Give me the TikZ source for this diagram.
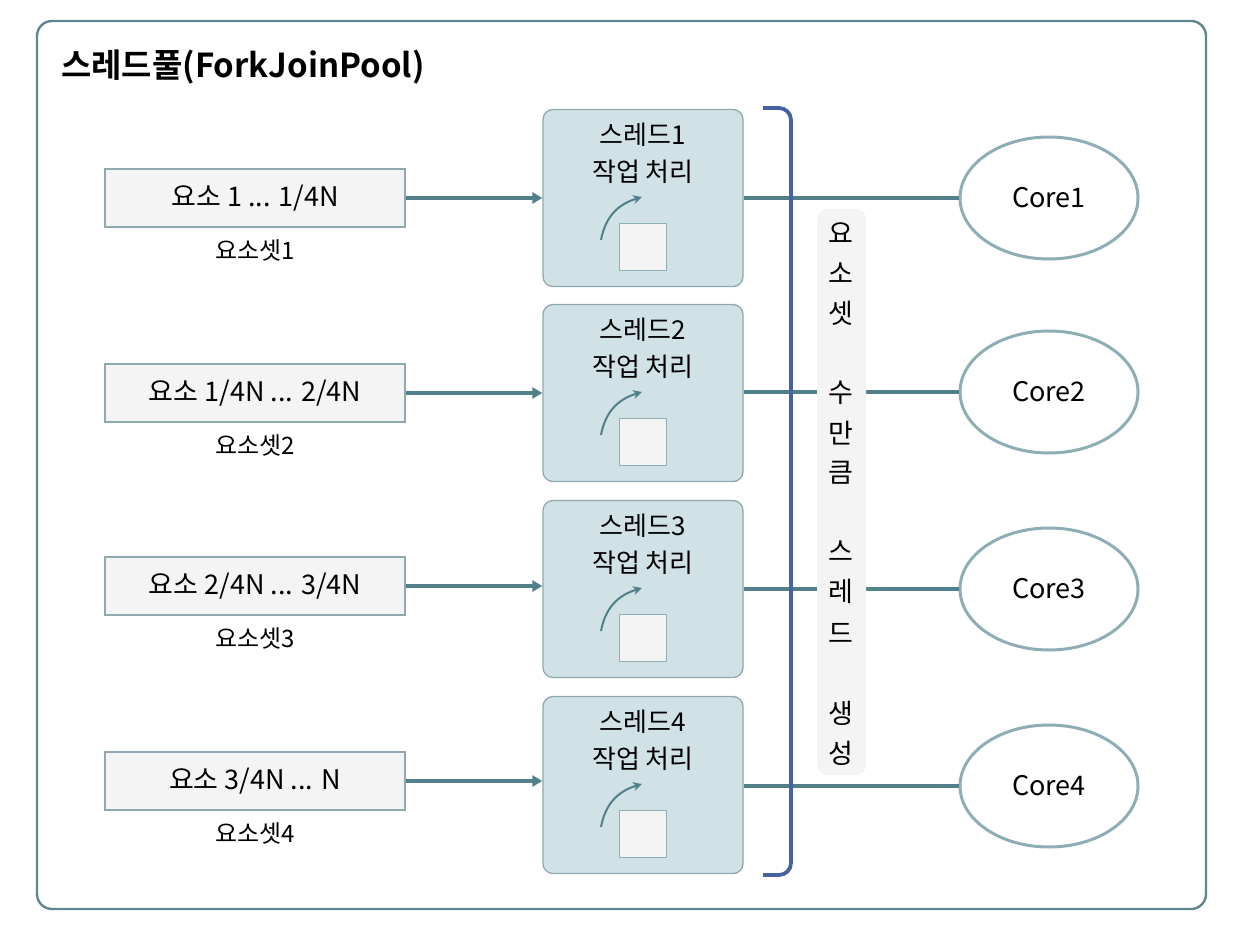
\documentclass[tikz,border=0pt]{standalone}
\usepackage{fontspec}
\setmainfont{Noto Sans CJK KR}
\newfontfamily\krbold{Noto Sans CJK KR Bold}
\usetikzlibrary{arrows.meta,shapes.geometric}
\definecolor{frame}{HTML}{5E8790}
\definecolor{conn}{HTML}{52808A}
\definecolor{boxfill}{HTML}{F4F4F4}
\definecolor{boxdraw}{HTML}{8EA9AF}
\definecolor{thrfill}{HTML}{D1E2E7}
\definecolor{coredraw}{HTML}{8EAEB5}
\definecolor{brk}{HTML}{4563A0}
\tikzset{
  elembox/.style={draw=boxdraw, fill=boxfill, line width=1.3pt, minimum width=300pt, minimum height=58pt, inner sep=0pt, font=\fontsize{27}{30}\selectfont},
  setlbl/.style={font=\fontsize{24}{27}\selectfont, inner sep=0pt},
  thrbox/.style={draw=boxdraw, fill=thrfill, line width=1.3pt, rounded corners=10pt, minimum width=200pt, minimum height=177pt, inner sep=0pt},
  thrtxt/.style={font=\fontsize{26}{30}\selectfont, inner sep=0pt},
  sq/.style={draw=coredraw, fill=boxfill, line width=1.3pt, minimum width=47pt, minimum height=47pt, inner sep=0pt},
  core/.style={ellipse, draw=coredraw, fill=white, line width=3pt, minimum width=178pt, minimum height=122pt, inner sep=0pt, font=\fontsize{27}{30}\selectfont},
  conline/.style={draw=conn, line width=3.2pt},
  conarrow/.style={conline, -{Triangle[length=10pt,width=11pt]}},
  curv/.style={draw=conn, line width=2pt, -{Stealth[length=9pt,width=9pt]}},
  vchar/.style={font=\fontsize{27}{30}\selectfont, inner sep=0pt}
}
\begin{document}
\begin{tikzpicture}[x=1pt,y=-1pt]
\useasboundingbox (0,0) rectangle (1242,928);
\fill[white] (0,0) rectangle (1242,928);
\draw[frame, line width=2.4pt, rounded corners=15pt] (37,21) rectangle (1206,909);
\node[anchor=west, inner sep=0pt, font=\krbold\fontsize{33}{36}\selectfont] (title) at (61,67) {스레드풀(ForkJoinPool)};

\foreach \i/\ye/\yt/\yc/\t in {1/198/198/198/{요소 1 ... 1/4N}, 2/393/393/392/{요소 1/4N ... 2/4N}, 3/586/589/589/{요소 2/4N ... 3/4N}, 4/781/785/786/{요소 3/4N ... N}}{
  \node[elembox] (e\i) at (255,\ye) {\t};
  \node[setlbl] (s\i) at (255,\ye+52) {요소셋\i};
  \node[thrbox] (t\i) at (643,\yt) {};
  \node[thrtxt] (ta\i) at (643,\yt-63) {스레드\i};
  \node[thrtxt] (tb\i) at (643,\yt-26) {작업 처리};
  \node[sq] (q\i) at (643,\yt+49) {};
  \coordinate (ca\i) at (601,\yt+42);
  \coordinate (cb\i) at (642,\yt-1);
  \draw[curv] (ca\i) .. controls (606,\yt+15) and (622,\yt+5) .. (cb\i);
  \node[core] (c\i) at (1049,\yc) {Core\i};
  \draw[conarrow] (e\i.east) -- (e\i.east -| t\i.west);
  \draw[conline] (c\i.west -| t\i.east) -- (c\i.west);
}

\fill[boxfill, rounded corners=10pt] (817,209) rectangle (866,775);
\foreach \ch/\y [count=\k] in {요/233, 소/273, 셋/313, 수/393, 만/433, 큼/473, 스/551, 레/591, 드/633, 생/713, 성/753}{
  \node[vchar] (v\k) at (841,\y) {\ch};
}

\draw[brk, line width=3.8pt, rounded corners=12pt] (763,108) -| (791,875) -- (763,875);
\end{tikzpicture}
\end{document}
